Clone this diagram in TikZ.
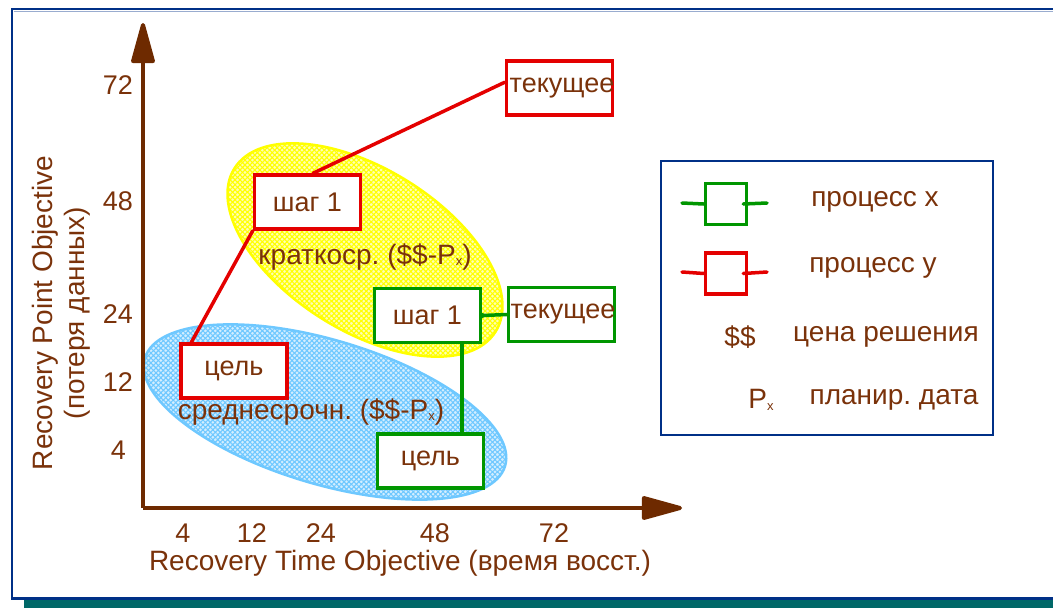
\documentclass[tikz,border=0pt]{standalone}
\usepackage{fontspec}
\setmainfont{Liberation Sans}
\usetikzlibrary{patterns,patterns.meta,arrows.meta}
\definecolor{brn}{RGB}{110,42,0}
\definecolor{txt}{RGB}{122,50,10}
\definecolor{rd}{RGB}{228,0,0}
\definecolor{gr}{RGB}{0,150,0}
\definecolor{navy}{RGB}{0,48,135}
\definecolor{tealbar}{RGB}{0,104,104}
\definecolor{yel}{RGB}{255,255,0}
\definecolor{lblue}{RGB}{110,200,255}
\newcommand\subxx{\raisebox{-1.5pt}{\fontsize{13}{13}\selectfont x}}
\frenchspacing
\begin{document}
\begin{tikzpicture}[x=1pt,y=-1pt,
  font=\fontsize{28}{32}\selectfont,
  every node/.style={text=txt, inner sep=0pt},
  sm/.style={font=\fontsize{27}{31}\selectfont},
  bx/.style={draw, line width=3.5pt, fill=white, minimum width=106pt, minimum height=54pt, inner sep=0pt, sm},
  redbx/.style={bx, draw=rd},
  grnbx/.style={bx, draw=gr},
  legbx/.style={draw, line width=3.5pt, minimum width=41pt, minimum height=41pt, inner sep=0pt},
  axis/.style={draw=brn, line width=4pt, -{Triangle[length=46pt,width=24pt,round]}},
  con/.style={line width=3.5pt, line cap=round}
]
\useasboundingbox (0,0) rectangle (1053,608);
% outer frame
\fill[tealbar] (24,600) rectangle (1053,608);
\draw[navy, line width=2.5pt] (1060,9) -- (12,9) -- (12,598.5) -- (1060,598.5);
\draw[navy!40, line width=0.8pt] (13.5,11) -- (1060,11);

% ellipses
\begin{scope}[rotate around={-32:(365,250)}]
  \fill[yel!30] (365,250) ellipse [x radius=154, y radius=81];
  \fill[pattern={Lines[angle=45,distance=3.5pt,line width=1.1pt]}, pattern color=yel] (365,250) ellipse [x radius=154, y radius=81];
  \fill[pattern={Lines[angle=-45,distance=3.5pt,line width=1.1pt]}, pattern color=yel] (365,250) ellipse [x radius=154, y radius=81];
  \draw[yel, line width=2.5pt] (365,250) ellipse [x radius=154, y radius=81];
\end{scope}
\begin{scope}[rotate around={-16.7:(325,412)}]
  \fill[lblue!30] (325,412) ellipse [x radius=188, y radius=72];
  \fill[pattern={Lines[angle=45,distance=3.5pt,line width=1.1pt]}, pattern color=lblue] (325,412) ellipse [x radius=188, y radius=72];
  \fill[pattern={Lines[angle=-45,distance=3.5pt,line width=1.1pt]}, pattern color=lblue] (325,412) ellipse [x radius=188, y radius=72];
  \draw[lblue, line width=2.5pt] (325,412) ellipse [x radius=188, y radius=72];
\end{scope}

% axes
\coordinate (o) at (143,508);
\coordinate (ytip) at (143,23);
\coordinate (xtip) at (682,508);
\draw[axis] (o) -- (ytip);
\draw[axis] (o) -- (xtip);

% tick labels
\node[sm, anchor=east] (y72) at (133,85) {72};
\node[sm, anchor=east] (y48) at (133,201) {48};
\node[sm, anchor=east] (y24) at (133,314) {24};
\node[sm, anchor=east] (y12) at (133,382) {12};
\node[sm, anchor=east] (y4) at (126,450) {4};
\node[sm] (x4) at (183,533) {4};
\node[sm] (x12) at (252,533) {12};
\node[sm] (x24) at (321,533) {24};
\node[sm] (x48) at (435,533) {48};
\node[sm] (x72) at (554,533) {72};

% axis labels
\node (xlab) at (400,563) {Recovery Time Objective (время восст.)};
\node[rotate=90, align=center] (ylab) at (61,313) {Recovery Point Objective\\(потеря данных)};

% ellipse labels
\node (kr) at (365,257) {краткоср. (\$\$-P\subxx)};
\node (sr) at (311,412) {среднесрочн. (\$\$-P\subxx)};

% boxes
\node[redbx] (tek) at (559.5,88) {\makebox[0pt]{\hspace{5pt}текущее}};
\node[redbx] (s1) at (307.5,202) {шаг 1};
\node[redbx] (c1) at (234,371) {цель};
\node[grnbx] (gs1) at (427.5,315.5) {шаг 1};
\node[grnbx] (gt) at (561.5,314.5) {\makebox[0pt]{\hspace{3pt}текущее}};
\node[grnbx] (gc) at (430.5,461) {цель};

% connectors
\draw[con, rd] (s1.79) -- (tek.174);
\draw[con, rd] (s1.south west) -- (c1.146);
\draw[con, gr] (gs1.east) -- (gt.west);
\fill[gr] (gs1.east) circle (2.5pt);
\draw[con, gr] ([xshift=34.5pt]gs1.south) -- ([xshift=31.5pt]gc.north);

% legend
\node[draw=navy, line width=2pt, minimum width=332pt, minimum height=274pt] (leg) at (827,298) {};
\node[legbx, draw=gr] (lgx) at (726,204) {};
\node[legbx, draw=rd] (lgy) at (726,273.5) {};
\coordinate (lgxa) at (682,203);
\coordinate (lgxb) at (767,203);
\coordinate (lgya) at (682,272);
\coordinate (lgyb) at (767,272);
\draw[con, gr] (lgxa) -- (lgx.west);
\draw[con, gr] ([xshift=-5pt]lgx.east) -- (lgxb);
\draw[con, rd] (lgya) -- (lgy.west);
\draw[con, rd] ([xshift=-5pt]lgy.east) -- (lgyb);
\node (tx) at (875,202) {процесс x};
\node (ty) at (873,268) {процесс y};
\node (tdd) at (740,337) {\$\$};
\node (tcena) at (886,337) {цена решения};
\node (tpx) at (761,400) {P\subxx};
\node (tplan) at (894,400) {планир. дата};
\end{tikzpicture}
\end{document}
